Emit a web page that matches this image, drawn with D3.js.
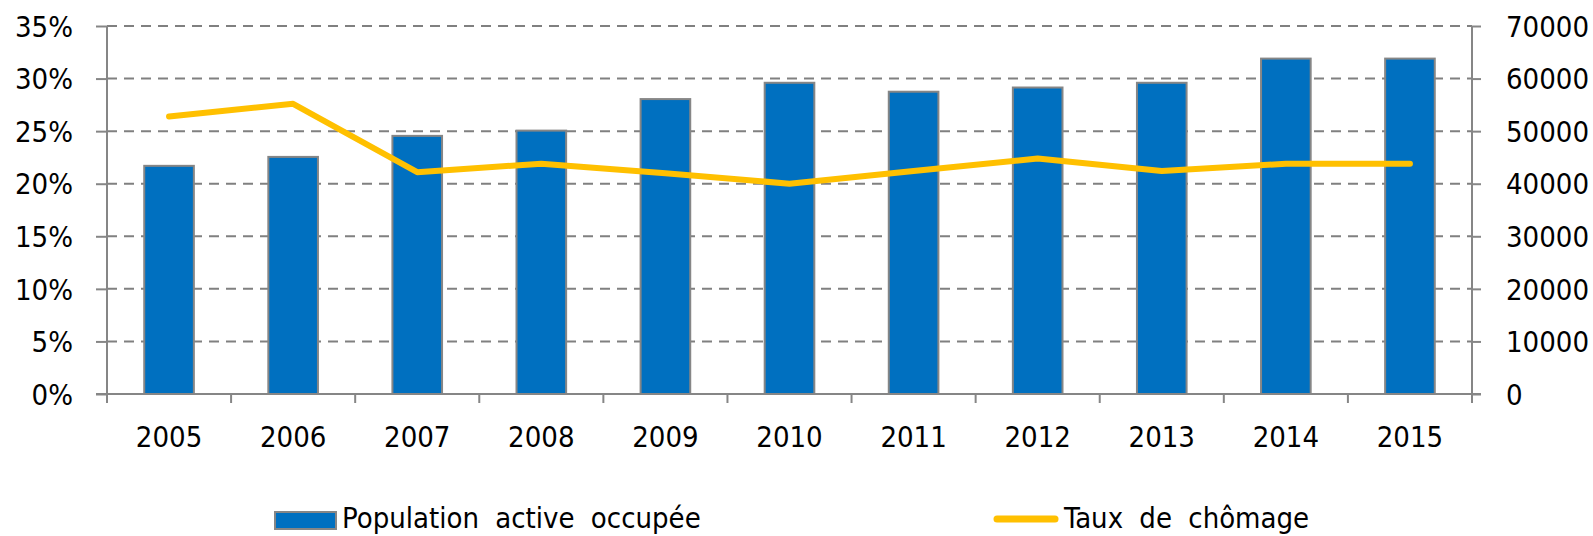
<!DOCTYPE html>
<meta charset="utf-8">
<style>
body { margin: 0; background: #fff; }
text { font-family: "DejaVu Sans Condensed", "DejaVu Sans", sans-serif; font-stretch: condensed; font-size: 29px; fill: #000; }
.legend text { word-spacing: 8px; }
.grid line { stroke: #808080; stroke-width: 2px; stroke-dasharray: 10,7; }
.axis path, .axis line { stroke: #868686; stroke-width: 2px; fill: none; }
.bar { fill: #0070c0; stroke: #868686; stroke-width: 2px; }
.line { fill: none; stroke: #ffc000; stroke-width: 6px; stroke-linecap: round; stroke-linejoin: round; }
</style>
<body>
<script src="https://d3js.org/d3.v7.min.js"></script>
<script>

var years = ["2005", "2006", "2007", "2008", "2009", "2010", "2011", "2012", "2013", "2014", "2015"];
var population = [43400, 45100, 49100, 50100, 56100, 59200, 57500, 58300, 59200, 63800, 63800];
var chomage = [26.4, 27.6, 21.1, 21.9, 21.0, 20.0, 21.2, 22.4, 21.2, 21.9, 21.9];
var leftTicks = [0, 5, 10, 15, 20, 25, 30, 35];
var rightTicks = [0, 10000, 20000, 30000, 40000, 50000, 60000, 70000];

var margin = {top: 26, right: 121, bottom: 142, left: 107},
    width = 1593 - margin.left - margin.right,
    height = 536 - margin.top - margin.bottom;

var svg = d3.select("body").append("svg")
    .attr("width", 1593)
    .attr("height", 536)
  .append("g")
    .attr("transform", "translate(" + margin.left + "," + margin.top + ")");

var x = d3.scaleBand()
    .domain(years)
    .range([0, width])
    .paddingInner(0.6)
    .paddingOuter(0.3);

var yL = d3.scaleLinear().domain([0, 35]).range([height, 0]);
var yR = d3.scaleLinear().domain([0, 70000]).range([height, 0]);

// dashed gridlines
svg.append("g")
    .attr("class", "grid")
  .selectAll("line")
  .data(leftTicks.slice(1))
  .enter().append("line")
    .attr("x1", 0)
    .attr("x2", width)
    .attr("y1", function(d) { return yL(d); })
    .attr("y2", function(d) { return yL(d); });

// bars
svg.selectAll(".bar")
  .data(population)
  .enter().append("rect")
    .attr("class", "bar")
    .attr("x", function(d, i) { return x(years[i]); })
    .attr("width", x.bandwidth())
    .attr("y", function(d) { return yR(d); })
    .attr("height", function(d) { return height - yR(d); });

// left axis
var axL = svg.append("g")
    .attr("class", "axis")
    .call(d3.axisLeft(yL).tickValues(leftTicks).tickSize(11).tickPadding(23)
      .tickFormat(function(d) { return d + "%"; }));
axL.select(".domain").attr("d", "M0," + height + "V0");
axL.selectAll("text").attr("dy", "0.35em");

// right axis
var axR = svg.append("g")
    .attr("class", "axis")
    .attr("transform", "translate(" + width + ",0)")
    .call(d3.axisRight(yR).tickValues(rightTicks).tickSize(9).tickPadding(25)
      .tickFormat(d3.format("d")));
axR.select(".domain").attr("d", "M0," + height + "V0");
axR.selectAll("text").attr("dy", "0.35em");

// bottom axis: ticks at category boundaries
var bottom = svg.append("g")
    .attr("class", "axis")
    .attr("transform", "translate(0," + height + ")");
bottom.append("line")
    .attr("x1", -11).attr("x2", width + 9);
bottom.selectAll(".tk")
  .data(d3.range(years.length + 1))
  .enter().append("line")
    .attr("x1", function(i) { return i * x.step(); })
    .attr("x2", function(i) { return i * x.step(); })
    .attr("y1", 0)
    .attr("y2", 9);
bottom.selectAll(".lab")
  .data(years)
  .enter().append("text")
    .attr("x", function(d) { return x(d) + x.bandwidth() / 2; })
    .attr("y", 53)
    .attr("text-anchor", "middle")
    .text(function(d) { return d; });

// unemployment line
var line = d3.line()
    .x(function(d, i) { return x(years[i]) + x.bandwidth() / 2; })
    .y(function(d) { return yL(d); });

svg.append("path")
    .datum(chomage)
    .attr("class", "line")
    .attr("d", line);

// legend
var legend = d3.select("svg").append("g").attr("class", "legend");
legend.append("rect")
    .attr("class", "bar")
    .attr("x", 275).attr("y", 512)
    .attr("width", 61).attr("height", 17);
legend.append("text")
    .attr("x", 342).attr("y", 528)
    .text("Population active occupée");
legend.append("line")
    .attr("x1", 997).attr("x2", 1055)
    .attr("y1", 519).attr("y2", 519)
    .attr("stroke", "#ffc000").attr("stroke-width", 7).attr("stroke-linecap", "round");
legend.append("text")
    .attr("x", 1064).attr("y", 528)
    .text("Taux de chômage");

</script>
